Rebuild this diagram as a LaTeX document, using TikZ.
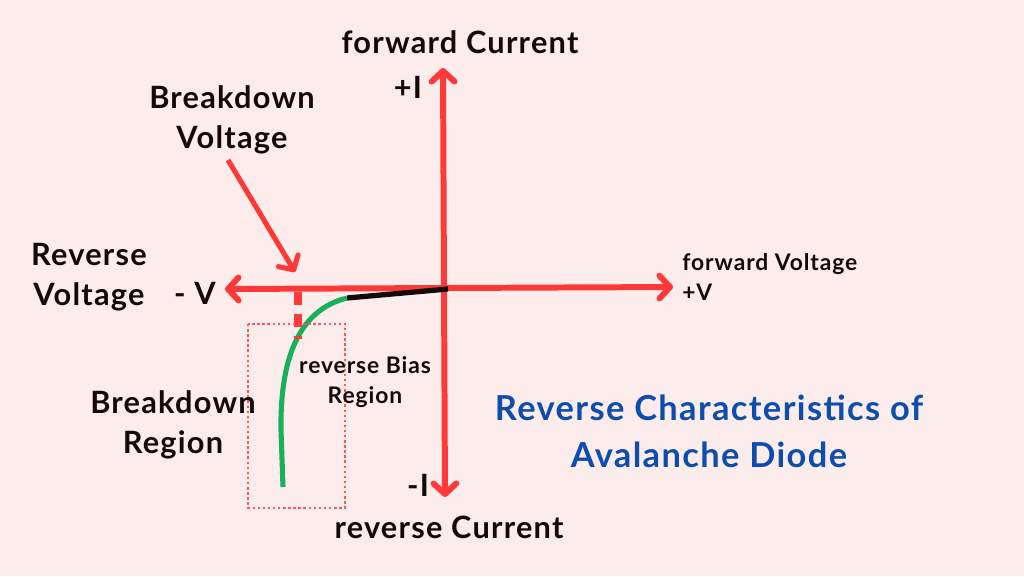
\documentclass[tikz,border=0pt]{standalone}
\usepackage{fontspec}
\setmainfont{Lato}[LetterSpace=4]
\usetikzlibrary{arrows.meta}

\definecolor{bgpink}{HTML}{FDECEC}
\definecolor{axisred}{HTML}{FF3838}
\definecolor{curvegreen}{HTML}{18B05B}
\definecolor{titleblue}{HTML}{0C4DAE}
\definecolor{inkblack}{HTML}{140A0A}

\tikzset{
  barb/.style={-{Straight Barb[length=6pt,width=13pt,round]}},
  axisline/.style={axisred, line width=3.4pt, barb},
  biglbl/.style={font=\bfseries\fontsize{17.5}{22.8}\selectfont, text=inkblack, align=center, inner sep=0pt},
  smalllbl/.style={font=\bfseries\fontsize{13}{17}\selectfont, text=inkblack, align=center, inner sep=0pt},
}

\begin{document}
\begin{tikzpicture}[x=0.02cm,y=-0.02cm]
% background, one unit is one pixel of the reference
\fill[bgpink] (0,0) rectangle (1024,576);
\useasboundingbox (0,0) rectangle (1024,576);

% A) axes
\coordinate (O) at (444,288);
\coordinate (Itop) at (443,68);
\coordinate (Ibot) at (445,497);
\coordinate (Vleft) at (225,289);
\coordinate (Vright) at (673,287);
\draw[axisline] (O) -- (Itop);
\draw[axisline] (O) -- (Ibot);
\draw[axisline] (O) -- (Vleft);
\draw[axisline] (O) -- (Vright);

% B) characteristic: leakage part and breakdown knee
\coordinate (knee) at (347,298);
\coordinate (foot) at (283,487);
\draw[inkblack, line width=3pt] (knee) -- (448,289);
\draw[curvegreen, line width=2.9pt] (knee) .. controls (298,310) and (280,360) .. (281,430) -- (foot);

% C) breakdown voltage mark and region box
\draw[axisred, line width=4pt, dash pattern=on 7.4pt off 5pt] (298,292) -- (298,339);
\draw[axisred!85, line width=1.6pt, dash pattern=on 1.4pt off 1.5pt] (248,324) rectangle (345,508);

% D) labels
\node[biglbl] (fwdcur) at (460,42) {forward Current};
\node[biglbl] (plusI) at (408,87) {+I};
\node[biglbl] (bdvolt) at (232,120) {Breakdown\\Voltage};
\node[biglbl] (revvolt) at (89,277) {Reverse\\Voltage};
\node[biglbl] (minusV) at (195,293) {- V};
\node[smalllbl, anchor=west, align=left] (fwdvolt) at (682,277) {forward Voltage\\+V};
\node[smalllbl] (bias) at (365,382) {reverse Bias\\Region};
\node[biglbl] (bdreg) at (173,425) {Breakdown\\Region};
\node[biglbl] (minusI) at (418,485) {-I};
\node[biglbl] (revcur) at (449,527) {reverse Current};
\node[biglbl, text=titleblue, font=\bfseries\fontsize{19.6}{26.7}\selectfont] (title) at (709,431) {Reverse Characteristics of\\Avalanche Diode};

% E) pointer to the breakdown voltage
\coordinate (bvtail) at (228,160);
\coordinate (bvtip) at (295,272);
\draw[axisred, line width=2.9pt, barb] (bvtail) -- (bvtip);
\end{tikzpicture}
\end{document}
